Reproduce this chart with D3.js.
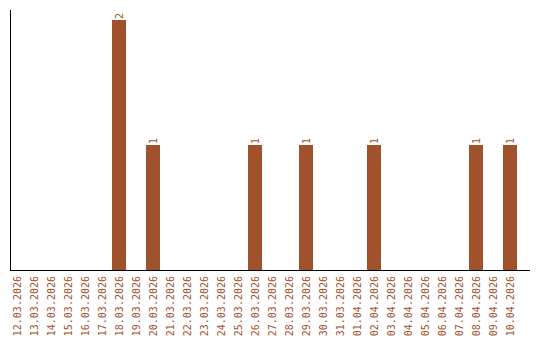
<!DOCTYPE html>
<html>
<head>
<meta charset="UTF-8">
<title>bar chart</title>
<style>
  body{ margin:0; background:#fff; }
  .bar{ fill:#a0522d; }
  .lbl{ fill:#a0522d; font-family:"DejaVu Sans Mono", monospace; font-size:10px; }
</style>
<script src="https://cdn.jsdelivr.net/npm/d3@7"></script>
</head>
<body>
<div id="canvas"></div>
<script>
// data
var dates = ["12.03.2026","13.03.2026","14.03.2026","15.03.2026","16.03.2026","17.03.2026",
  "18.03.2026","19.03.2026","20.03.2026","21.03.2026","22.03.2026","23.03.2026","24.03.2026",
  "25.03.2026","26.03.2026","27.03.2026","28.03.2026","29.03.2026","30.03.2026","31.03.2026",
  "01.04.2026","02.04.2026","03.04.2026","04.04.2026","05.04.2026","06.04.2026","07.04.2026",
  "08.04.2026","09.04.2026","10.04.2026"];
var counts = [0,0,0,0,0,0,2,0,1,0,0,0,0,0,1,0,0,1,0,0,0,1,0,0,0,0,0,1,0,1];

var width = 540, height = 340;
var left = 10.5, baseY = 270, topY = 20;

var svg = d3.select("#canvas").append("svg")
  .attr("width", width).attr("height", height);

var x = d3.scaleBand()
  .domain(dates)
  .range([8.5, 518.5])
  .paddingInner(3/17)
  .paddingOuter(3/34);

var y = d3.scaleLinear()
  .domain([0, d3.max(counts)])
  .range([baseY, topY]);

var data = dates.map(function(d, i){ return {label: d, value: counts[i]}; });

// bars
svg.selectAll(".bar")
  .data(data.filter(function(d){ return d.value > 0; }))
  .enter().append("rect")
  .attr("class", "bar")
  .attr("x", function(d){ return x(d.label); })
  .attr("width", x.bandwidth())
  .attr("y", function(d){ return y(d.value); })
  .attr("height", function(d){ return baseY - y(d.value); });

// value labels
svg.selectAll(".val")
  .data(data.filter(function(d){ return d.value > 0; }))
  .enter().append("text")
  .attr("class", "lbl")
  .attr("transform", function(d){
    return "translate(" + (x(d.label) + x.bandwidth()/2 + 3.5) + "," + (y(d.value) - 1) + ") rotate(-90)";
  })
  .attr("text-anchor", "start")
  .text(function(d){ return d.value; });

// x axis labels
var xAxis = d3.axisBottom(x).tickSize(0).tickPadding(0);
var gx = svg.append("g")
  .attr("transform", "translate(0," + baseY + ")")
  .call(xAxis);
gx.select(".domain").remove();
gx.selectAll("text")
  .attr("class", "lbl")
  .attr("fill", null)
  .attr("font-family", null)
  .attr("font-size", null)
  .attr("dy", null)
  .attr("y", 0)
  .attr("transform", "translate(4,6) rotate(-90)")
  .attr("text-anchor", "end");

// axis lines
var yAxis = d3.axisLeft(y).tickValues([]).tickSizeOuter(0);
var gy = svg.append("g")
  .attr("transform", "translate(" + left + ",0)")
  .call(yAxis);
gy.select(".domain").attr("d", "M0,10V" + baseY);

svg.append("line")
  .attr("x1", 10).attr("x2", 530)
  .attr("y1", baseY + 0.5).attr("y2", baseY + 0.5)
  .attr("stroke", "#000");
</script>
</body>
</html>
